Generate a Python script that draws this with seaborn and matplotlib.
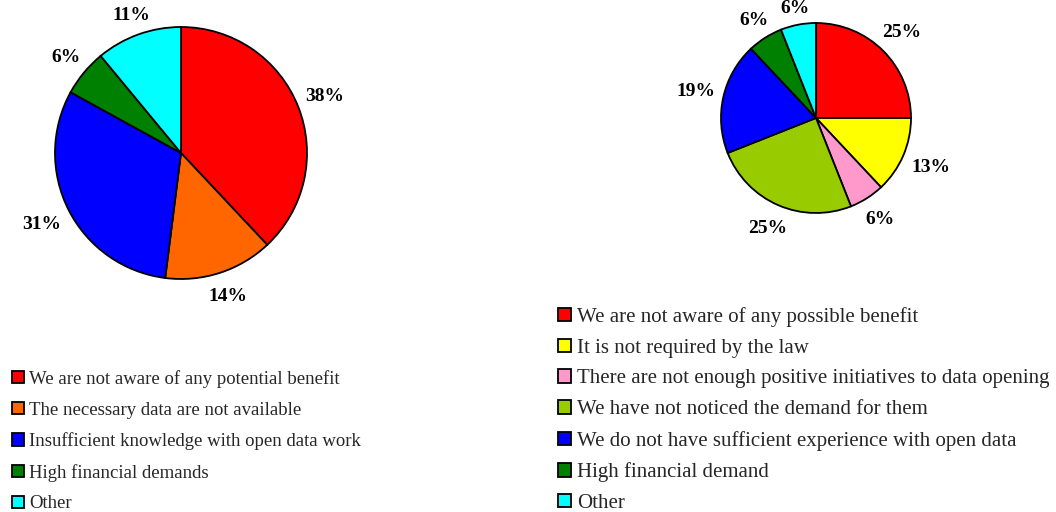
import matplotlib
matplotlib.use("Agg")
import matplotlib.pyplot as plt
import numpy as np
import seaborn as sns

# Данные: левая диаграмма
left_labels = [
    "We are not aware of any potential benefit",
    "The necessary data are not available",
    "Insufficient knowledge with open data work",
    "High financial demands",
    "Other",
]
left_values = [38, 14, 31, 6, 11]
left_colors = ["#FF0000", "#FF6600", "#0000FF", "#008000", "#00FFFF"]

# Данные: правая диаграмма
right_labels = [
    "We are not aware of any possible benefit",
    "It is not required by the law",
    "There are not enough positive initiatives to data opening",
    "We have not noticed the demand for them",
    "We do not have sufficient experience with open data",
    "High financial demand",
    "Other",
]
right_values = [25, 13, 6, 25, 19, 6, 6]
right_colors = ["#FF0000", "#FFFF00", "#FF99CC", "#99CC00", "#0000FF", "#008000", "#00FFFF"]

sns.set_theme(style="white")
plt.rcParams["font.family"] = ["Liberation Serif", "DejaVu Serif"]

W, H = 1056, 512
fig = plt.figure(figsize=(W / 100, H / 100), dpi=100)
renderer = fig.canvas.get_renderer()


def draw_pie(cx, cy, r, values, colors, gap=8):
    ax = fig.add_axes([(cx - r) / W, (H - cy - r) / H, 2 * r / W, 2 * r / H])
    wedges, _ = ax.pie(
        values,
        colors=colors,
        startangle=90,
        counterclock=False,
        wedgeprops=dict(edgecolor="black", linewidth=1.3),
    )
    ax.set_xlim(-1, 1)
    ax.set_ylim(-1, 1)
    ax.set_aspect("equal")
    # подписи снаружи круга: верхние ближе к окружности, нижние дальше
    for wedge, val in zip(wedges, values):
        ang = np.deg2rad((wedge.theta1 + wedge.theta2) / 2)
        dx, dy = np.cos(ang), np.sin(ang)
        t = ax.text(0, 0, f"{val}%", ha="center", va="center",
                    fontsize=14, fontweight="bold", color="black")
        bb = t.get_window_extent(renderer)
        hk = 0.35 if dy > 0 else 0.65
        dist = r + gap + abs(dx) * bb.width / 2 + abs(dy) * bb.height * hk
        t.set_position((dx * dist / r, dy * dist / r))
    return wedges


w1 = draw_pie(181, 153, 126, left_values, left_colors)
w2 = draw_pie(816, 118, 95, right_values, right_colors)

legend_kw = dict(
    loc="upper left",
    frameon=False,
    borderpad=0,
    borderaxespad=0,
    handlelength=0.62,
    handleheight=0.62,
    handletextpad=0.3,
    bbox_transform=fig.transFigure,
)
fig.legend(w1, left_labels, bbox_to_anchor=(12 / W, 1 - 370 / H),
           fontsize=13.5, labelspacing=0.73, **legend_kw)
fig.legend(w2, right_labels, bbox_to_anchor=(558 / W, 1 - 307 / H),
           fontsize=15, labelspacing=0.56, **legend_kw)

fig.savefig("out.png", dpi=100)
